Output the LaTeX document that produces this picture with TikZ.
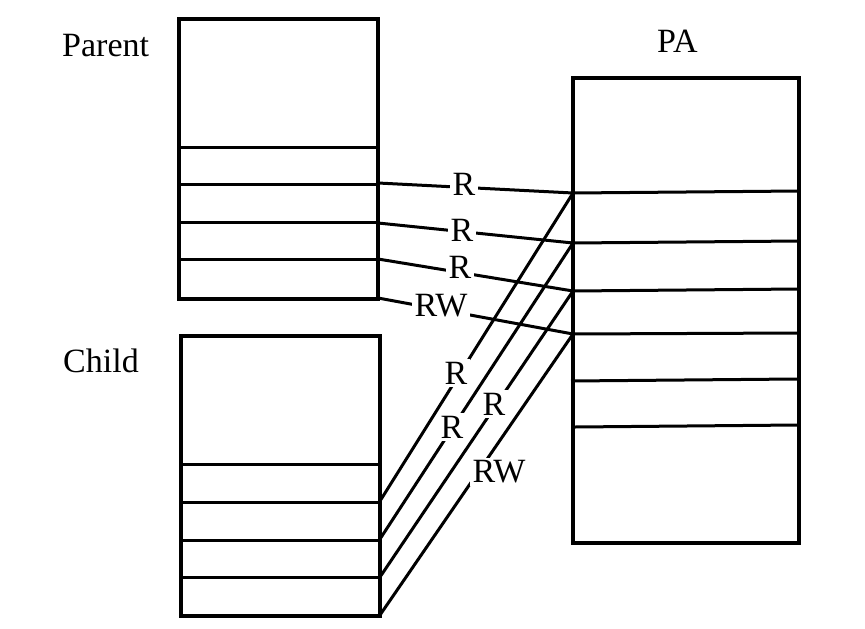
\documentclass[tikz,border=0pt]{standalone}
\usepackage{fontspec}
\setmainfont{Liberation Serif}
\begin{document}
\begin{tikzpicture}[x=1pt,y=-1pt,
  box/.style={draw,line width=3.4pt},
  row/.style={line width=3pt},
  link/.style={line width=3pt},
  lbl/.style={fill=white,inner sep=2.5pt,font=\fontsize{34}{40}\selectfont},
  title/.style={anchor=base west,inner sep=0pt,font=\fontsize{34}{40}\selectfont}]
\useasboundingbox (0,0) rectangle (865,629);
% boxes
\draw[box] (179,19) rectangle (378,299);
\draw[box] (181,336) rectangle (380,616);
\draw[box] (573,78) rectangle (799,543);
% parent rows
\draw[row] (177,147) -- (378,147);
\draw[row] (179,184) -- (378,184);
\draw[row] (179,222) -- (378,222);
\draw[row] (177,259) -- (378,259);
% child rows
\draw[row] (179,464) -- (380,464);
\draw[row] (181,502) -- (380,502);
\draw[row] (181,540) -- (380,540);
\draw[row] (179,577) -- (380,577);
% PA rows
\draw[row] (573,193) -- (799,191);
\draw[row] (573,243) -- (799,241);
\draw[row] (573,291) -- (799,289);
\draw[row] (573,334) -- (799,333);
\draw[row] (571,381) -- (797,379);
\draw[row] (575,427) -- (798,425);
% endpoints
\coordinate (p1) at (378,183);
\coordinate (p2) at (378,223);
\coordinate (p3) at (378,259);
\coordinate (p4) at (378,298);
\coordinate (c1) at (380,501);
\coordinate (c2) at (380,539);
\coordinate (c3) at (380,577);
\coordinate (c4) at (380,615);
\coordinate (a1) at (573,193);
\coordinate (a2) at (573,243);
\coordinate (a3) at (573,291);
\coordinate (a4) at (573,334);
% connectors
\draw[link] (p1) -- (a1);
\draw[link] (p2) -- (a2);
\draw[link] (p3) -- (a3);
\draw[link] (p4) -- (a4);
\draw[link] (c1) -- (a1);
\draw[link] (c2) -- (a2);
\draw[link] (c3) -- (a3);
\draw[link] (c4) -- (a4);
% connector labels
\node[lbl] (lp1) at (464,184) {R};
\node[lbl] (lp2) at (462,230) {R};
\node[lbl] (lp3) at (460,267) {R};
\node[lbl] (lp4) at (441,306) {RW};
\node[lbl] (lc1) at (456,373) {R};
\node[lbl] (lc2) at (452,427) {R};
\node[lbl] (lc3) at (494,404) {R};
\node[lbl] (lc4) at (499,472) {RW};
% titles
\node[title] (tparent) at (62,56) {Parent};
\node[title] (tchild) at (63,372) {Child};
\node[title] (tpa) at (657,52) {PA};
\end{tikzpicture}
\end{document}
